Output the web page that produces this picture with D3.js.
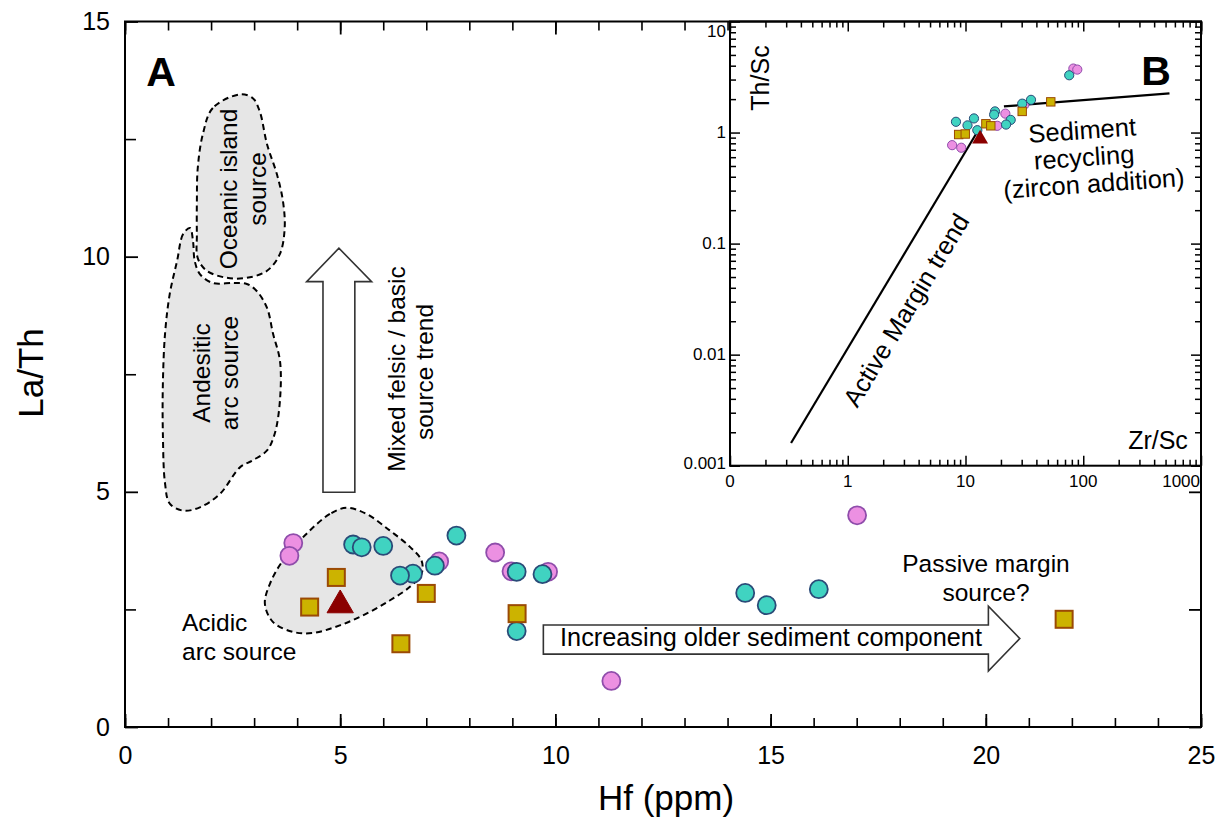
<!DOCTYPE html>
<html><head><meta charset="utf-8">
<script src="https://cdn.jsdelivr.net/npm/d3@7"></script>
<style>body{margin:0;background:#fff}svg{display:block}</style>
</head><body>
<script>
// ---------- DATA ----------
// Main plot (A): La/Th vs Hf (ppm)
const xTicksMajor = [0, 5, 10, 15, 20, 25];
const xTicksMinor = d3.range(0, 26, 1);
const yTicksMajor = [0, 5, 10, 15];
const yTicksMinor = [2.5, 7.5, 12.5];

const pinkHf   = [3.91, 3.82, 7.30, 8.60, 8.98, 9.83, 11.30, 17.01];
const pinkLaTh = [3.91, 3.64, 3.52, 3.71, 3.31, 3.30, 0.98, 4.50];
const cyanHf   = [5.30, 5.50, 6.00, 7.70, 7.20, 6.69, 6.39, 9.10, 9.70, 9.10, 14.41, 14.91, 16.12];
const cyanLaTh = [3.88, 3.82, 3.85, 4.07, 3.43, 3.26, 3.22, 3.30, 3.25, 2.04, 2.85, 2.59, 2.93];
const squareHf   = [4.91, 4.29, 7.00, 9.11, 6.41, 21.82];
const squareLaTh = [3.18, 2.55, 2.84, 2.41, 1.77, 2.29];
const triangleHf = [5.0];
const triangleLaTh = [2.59];

// Source fields (Hf, La/Th outline vertices)
const oceanicField = [[2.67,13.45],[2.04,13.16],[1.81,12.61],[1.69,11.88],[1.67,11.18],[1.67,10.48],[1.69,9.97],[1.90,9.70],[2.37,9.55],[2.83,9.55],[3.30,9.70],[3.60,10.06],[3.71,10.61],[3.67,11.18],[3.53,11.75],[3.30,12.39],[3.13,13.09],[2.97,13.37]];
const andesiticField = [[1.51,10.61],[1.35,10.48],[1.21,9.91],[1.04,9.21],[0.93,8.36],[0.88,7.30],[0.88,6.24],[0.93,5.18],[1.04,4.75],[1.35,4.60],[1.74,4.67],[2.21,4.96],[2.67,5.52],[2.97,5.67],[3.30,5.88],[3.48,6.24],[3.60,6.94],[3.60,7.79],[3.44,8.36],[3.30,8.91],[3.06,9.27],[2.83,9.42],[2.51,9.44],[2.04,9.44],[1.74,9.63],[1.62,9.91],[1.58,10.33]];
const acidicField = [[5.15,4.66],[4.76,4.53],[4.22,4.11],[3.67,3.54],[3.37,3.05],[3.25,2.62],[3.44,2.23],[3.91,2.02],[4.37,2.00],[4.99,2.16],[5.61,2.41],[6.15,2.69],[6.62,2.98],[6.89,3.26],[6.89,3.54],[6.62,3.83],[6.15,4.18],[5.61,4.53]];

// Trend arrows (Hf, La/Th)
const upArrow = [[4.60,4.99],[5.34,4.99],[5.34,9.47],[5.73,9.47],[4.97,10.18],[4.22,9.47],[4.60,9.47]];
const rightArrow = [[9.72,2.17],[20.06,2.17],[20.06,2.57],[20.79,1.88],[20.06,1.19],[20.06,1.55],[9.72,1.55]];

// Inset (B): Th/Sc vs Zr/Sc, log-log
const insetXTicks = [0.1, 1, 10, 100, 1000];
const insetXTickLabels = ["0", "1", "10", "100", "1000"];
const insetYTicks = [0.001, 0.01, 0.1, 1, 10];
const insetYTickLabels = ["0.001", "0.01", "0.1", "1", "10"];

const iPinkZrSc = [82.4, 89, 31.6, 21.8, 18.6, 7.7, 9.2];
const iPinkThSc = [3.77, 3.69, 1.78, 1.48, 1.15, 0.77, 0.73];
const iCyanZrSc = [76, 30.3, 36, 17.8, 17.5, 24.2, 22.1, 8.3, 10.4, 11.8, 12.6];
const iCyanThSc = [3.28, 1.82, 1.97, 1.55, 1.45, 1.30, 1.18, 1.25, 1.16, 1.34, 1.05];
const iSquareZrSc = [53, 30.3, 14.9, 16.4, 8.75, 9.95];
const iSquareThSc = [1.89, 1.55, 1.20, 1.15, 0.96, 0.97];
const iTriangleZrSc = [13.3];
const iTriangleThSc = [0.875];

const activeMarginLine = [[0.33, 0.0016], [12.5, 1.0]];
const recyclingLine = [[21.2, 1.72], [540, 2.25]];

// ---------- STYLE ----------
const PINK = "#ec90e2", PINK_S = "#8f4dab";
const CYAN = "#40d3c1", CYAN_S = "#2a4b78";
const SQ = "#ccb300", SQ_S = "#9b4a05";
const TRI = "#8b0000";
const FONT = "'Liberation Sans', Arial, Helvetica, sans-serif";

const W = 1227, H = 821;
const svg = d3.select("body").append("svg").attr("width", W).attr("height", H)
  .style("font-family", FONT);

const x = d3.scaleLinear().domain([0, 25]).range([125, 1201]);
const y = d3.scaleLinear().domain([0, 15]).range([727, 21.5]);

function styleAxis(g, sw) {
  g.select(".domain").remove();
  g.selectAll(".tick line").attr("stroke", "#000").attr("stroke-width", sw);
}

// ---------- MAIN AXES ----------
const axG = svg.append("g");
axG.append("g").attr("transform", `translate(0,${y(0)})`)
  .call(d3.axisBottom(x).tickValues(xTicksMinor).tickSize(-9).tickFormat(""))
  .call(g => styleAxis(g, 1.6));
axG.append("g").attr("transform", `translate(0,${y(0)})`)
  .call(d3.axisBottom(x).tickValues(xTicksMajor).tickSize(-13).tickPadding(19).tickFormat(d3.format("d")))
  .call(g => { styleAxis(g, 1.8); g.selectAll("text").attr("font-size", 25).attr("fill", "#000").attr("font-family", FONT); });
axG.append("g").attr("transform", `translate(0,${y(15)})`)
  .call(d3.axisTop(x).tickValues(xTicksMinor).tickSize(-9).tickFormat(""))
  .call(g => styleAxis(g, 1.6));
axG.append("g").attr("transform", `translate(0,${y(15)})`)
  .call(d3.axisTop(x).tickValues(xTicksMajor).tickSize(-13).tickFormat(""))
  .call(g => styleAxis(g, 1.8));
axG.append("g").attr("transform", `translate(${x(0)},0)`)
  .call(d3.axisLeft(y).tickValues(yTicksMajor).tickSize(-13).tickPadding(15).tickFormat(d3.format("d")))
  .call(g => { styleAxis(g, 1.8); g.selectAll("text").attr("font-size", 25).attr("fill", "#000").attr("font-family", FONT); });
axG.append("g").attr("transform", `translate(${x(0)},0)`)
  .call(d3.axisLeft(y).tickValues(yTicksMinor).tickSize(-11).tickFormat(""))
  .call(g => styleAxis(g, 1.6));
axG.append("g").attr("transform", `translate(${x(25)},0)`)
  .call(d3.axisRight(y).tickValues(yTicksMajor.concat(yTicksMinor)).tickSize(-12).tickFormat(""))
  .call(g => styleAxis(g, 1.8));

// ---------- SOURCE FIELDS ----------
const fieldLine = d3.line().x(d => x(d[0])).y(d => y(d[1])).curve(d3.curveCatmullRomClosed.alpha(0.5));
[andesiticField, oceanicField, acidicField].forEach(f => {
  svg.append("path").attr("d", fieldLine(f))
    .attr("fill", "#e6e6e6").attr("stroke", "#000").attr("stroke-width", 2)
    .attr("stroke-dasharray", "6,4");
});

// ---------- ARROWS ----------
const polyLine = d3.line().x(d => x(d[0])).y(d => y(d[1]));
[upArrow, rightArrow].forEach(a => {
  svg.append("path").attr("d", polyLine(a) + "Z")
    .attr("fill", "#fff").attr("stroke", "#333").attr("stroke-width", 1.6)
    .attr("stroke-linejoin", "miter");
});

// ---------- TEXT (main) ----------
function txt(g, xx, yy, s, size, opts = {}) {
  const t = g.append("text").attr("x", xx).attr("y", yy).text(s)
    .attr("font-size", size).attr("fill", "#000")
    .attr("text-anchor", opts.anchor || "middle")
    .attr("dominant-baseline", "central");
  if (opts.rotate !== undefined) t.attr("transform", `rotate(${opts.rotate},${xx},${yy})`);
  if (opts.bold) t.attr("font-weight", "bold");
  return t;
}
txt(svg, 161, 72, "A", 41, { bold: true });
txt(svg, 30, 373, "La/Th", 35, { rotate: -90 });
txt(svg, 666, 797, "Hf (ppm)", 35);
txt(svg, 228, 189, "Oceanic island", 24.5, { rotate: -90 });
txt(svg, 257, 189, "source", 24.5, { rotate: -90 });
txt(svg, 201, 373, "Andesitic", 24.5, { rotate: -90 });
txt(svg, 229, 373, "arc source", 24.5, { rotate: -90 });
txt(svg, 396, 369, "Mixed felsic / basic", 24.5, { rotate: -90 });
txt(svg, 424, 372, "source trend", 24.5, { rotate: -90 });
txt(svg, 182, 622, "Acidic", 24.5, { anchor: "start" });
txt(svg, 182, 651, "arc source", 24.5, { anchor: "start" });
txt(svg, 771, 637, "Increasing older sediment component", 25.3);
txt(svg, 986, 563, "Passive margin", 24.5);
txt(svg, 986, 592, "source?", 24.5);

// ---------- MAIN POINTS ----------
const mp = svg.append("g");
pinkHf.forEach((h, i) => mp.append("circle").attr("cx", x(h)).attr("cy", y(pinkLaTh[i])).attr("r", 9)
  .attr("fill", PINK).attr("stroke", PINK_S).attr("stroke-width", 1.8));
cyanHf.forEach((h, i) => mp.append("circle").attr("cx", x(h)).attr("cy", y(cyanLaTh[i])).attr("r", 9)
  .attr("fill", CYAN).attr("stroke", CYAN_S).attr("stroke-width", 1.8));
squareHf.forEach((h, i) => mp.append("rect").attr("x", x(h) - 8.5).attr("y", y(squareLaTh[i]) - 8.5)
  .attr("width", 17).attr("height", 17).attr("fill", SQ).attr("stroke", SQ_S).attr("stroke-width", 2));
const triMain = d3.symbol().type(d3.symbolTriangle).size(300);
triangleHf.forEach((h, i) => mp.append("path").attr("d", triMain())
  .attr("transform", `translate(${x(h)},${y(triangleLaTh[i])})`).attr("fill", TRI).attr("stroke", TRI).attr("stroke-width", 1));

// ---------- INSET ----------
const xi = d3.scaleLog().domain([0.1, 1000]).range([730, 1201]);
const yi = d3.scaleLog().domain([0.001, 10]).range([465.7, 21.5]);
const ins = svg.append("g");
ins.append("rect").attr("x", xi(0.1)).attr("y", yi(10)).attr("width", xi(1000) - xi(0.1))
  .attr("height", yi(0.001) - yi(10)).attr("fill", "#fff");

const minorX = [], minorY = [];
insetXTicks.slice(0, -1).forEach(d => { for (let k = 2; k <= 9; k++) minorX.push(d * k); });
insetYTicks.slice(0, -1).forEach(d => { for (let k = 2; k <= 9; k++) minorY.push(d * k); });

function insAxis(axisFn, scale, pos, vals, size) {
  const a = axisFn(scale).tickValues(vals).tickSize(size).tickFormat("");
  const g = ins.append("g").attr("transform", pos).call(a);
  styleAxis(g, 1.5);
  return g;
}
insAxis(d3.axisBottom, xi, `translate(0,${yi(0.001)})`, minorX, -6);
insAxis(d3.axisBottom, xi, `translate(0,${yi(0.001)})`, insetXTicks, -10);
insAxis(d3.axisTop, xi, `translate(0,${yi(10)})`, minorX, -6);
insAxis(d3.axisTop, xi, `translate(0,${yi(10)})`, insetXTicks, -10);
insAxis(d3.axisLeft, yi, `translate(${xi(0.1)},0)`, minorY, -6);
insAxis(d3.axisLeft, yi, `translate(${xi(0.1)},0)`, insetYTicks, -10);
insAxis(d3.axisRight, yi, `translate(${xi(1000)},0)`, minorY, -6);
insAxis(d3.axisRight, yi, `translate(${xi(1000)},0)`, insetYTicks, -10);

ins.append("rect").attr("x", xi(0.1)).attr("y", yi(10)).attr("width", xi(1000) - xi(0.1))
  .attr("height", yi(0.001) - yi(10)).attr("fill", "none").attr("stroke", "#000").attr("stroke-width", 2);

// inset tick labels
insetXTicks.forEach((v, i) => {
  const last = i === insetXTicks.length - 1;
  ins.append("text").attr("x", xi(v) - (last ? 1 : 0)).attr("y", yi(0.001) + 16).text(insetXTickLabels[i])
    .attr("font-size", 17).attr("text-anchor", last ? "end" : "middle").attr("dominant-baseline", "central");
});
insetYTicks.forEach((v, i) => {
  const top = i === insetYTicks.length - 1, bot = i === 0;
  ins.append("text").attr("x", xi(0.1) - 4).attr("y", yi(v) + (top ? 10 : bot ? -2 : 0)).text(insetYTickLabels[i])
    .attr("font-size", 17).attr("text-anchor", "end").attr("dominant-baseline", "central");
});

// inset lines
const iLine = d3.line().x(d => xi(d[0])).y(d => yi(d[1]));
ins.append("path").attr("d", iLine(activeMarginLine)).attr("stroke", "#000").attr("stroke-width", 2.2).attr("fill", "none");
ins.append("path").attr("d", iLine(recyclingLine)).attr("stroke", "#000").attr("stroke-width", 2.2).attr("fill", "none");

// inset text
txt(ins, 760, 78, "Th/Sc", 25, { rotate: -90 });
txt(ins, 1158, 440, "Zr/Sc", 25);
txt(ins, 1156, 71, "B", 41, { bold: true });
const rg = ins.append("g").attr("transform", "translate(1084,157) rotate(-4)");
txt(rg, 0, -27, "Sediment", 25.5);
txt(rg, 0, 0, "recycling", 25.5);
txt(rg, 8, 27, "(zircon addition)", 25.5);
txt(ins, 906, 310, "Active Margin trend", 25.5, { rotate: -59 });

// inset points
iPinkZrSc.forEach((v, i) => ins.append("circle").attr("cx", xi(v)).attr("cy", yi(iPinkThSc[i])).attr("r", 4.6)
  .attr("fill", PINK).attr("stroke", PINK_S).attr("stroke-width", 1));
iCyanZrSc.forEach((v, i) => ins.append("circle").attr("cx", xi(v)).attr("cy", yi(iCyanThSc[i])).attr("r", 4.6)
  .attr("fill", CYAN).attr("stroke", CYAN_S).attr("stroke-width", 1));
iSquareZrSc.forEach((v, i) => ins.append("rect").attr("x", xi(v) - 4.2).attr("y", yi(iSquareThSc[i]) - 4.2)
  .attr("width", 8.4).attr("height", 8.4).attr("fill", SQ).attr("stroke", SQ_S).attr("stroke-width", 1));
const triIns = d3.symbol().type(d3.symbolTriangle).size(110);
iTriangleZrSc.forEach((v, i) => ins.append("path").attr("d", triIns())
  .attr("transform", `translate(${xi(v)},${yi(iTriangleThSc[i])})`).attr("fill", TRI));

// main frame on top
svg.append("rect").attr("x", x(0)).attr("y", y(15)).attr("width", x(25) - x(0)).attr("height", y(0) - y(15))
  .attr("fill", "none").attr("stroke", "#000").attr("stroke-width", 2);
</script>
</body></html>
